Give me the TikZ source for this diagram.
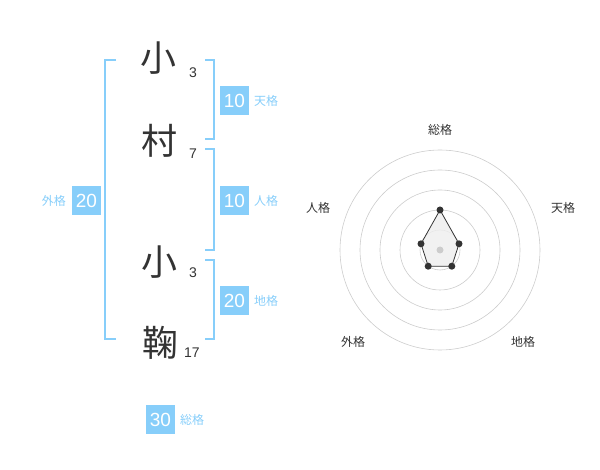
\documentclass[tikz,border=0pt]{standalone}
\usepackage{fontspec}
\setmainfont{Liberation Sans}
\newfontfamily\jp{Noto Sans CJK JP}
\definecolor{sky}{HTML}{87CEFA}
\definecolor{ink}{HTML}{333333}
\definecolor{ring}{HTML}{CCCCCC}
\definecolor{pfill}{HTML}{EEEEEE}
\begin{document}
\begin{tikzpicture}[x=1pt,y=-1pt,
  kanji/.style={font=\jp\fontsize{36}{36}\selectfont, text=ink, inner sep=0pt},
  stroke/.style={font=\fontsize{14}{14}\selectfont, text=ink, inner sep=0pt},
  scorebox/.style={fill=sky, text=white, minimum width=29pt, minimum height=29pt, inner sep=0pt, font=\fontsize{19}{19}\selectfont},
  kaku/.style={font=\jp\fontsize{12}{12}\selectfont, text=sky, inner sep=0pt},
  axislabel/.style={font=\jp\fontsize{12}{12}\selectfont, text=ink, inner sep=0pt},
  bracket/.style={draw=sky, line width=2pt},
  ringline/.style={draw=ring, line width=0.6pt},
  dot/.style={circle, fill=ink, inner sep=0pt, minimum size=7pt}]
\useasboundingbox (0,0) rectangle (600,470);
% characters
\node[kanji] (c1) at (158,58.5) {小};
\node[stroke] (n1) at (193,73) {3};
\node[kanji] (c2) at (159,140.5) {村};
\node[stroke] (n2) at (193,154) {7};
\node[kanji] (c3) at (159,262.5) {小};
\node[stroke] (n3) at (193,273) {3};
\node[kanji] (c4) at (160,342.5) {鞠};
\node[stroke] (n4) at (192,353) {17};
% brackets
\draw[bracket] (116,60) -- (105,60) -- (105,339) -- (116,339);
\draw[bracket] (205,60) -- (214,60) -- (214,139) -- (205,139);
\draw[bracket] (205,149) -- (214,149) -- (214,250) -- (205,250);
\draw[bracket] (205,260) -- (214,260) -- (214,339) -- (205,339);
% scores
\node[scorebox] (ten) at (234.5,100.5) {10};
\node[kaku, anchor=west] (tenl) at (254,101) {天格};
\node[scorebox] (jin) at (234.5,200.5) {10};
\node[kaku, anchor=west] (jinl) at (254,201) {人格};
\node[scorebox] (chi) at (234.5,300.5) {20};
\node[kaku, anchor=west] (chil) at (254,301) {地格};
\node[scorebox] (gai) at (86.5,200.5) {20};
\node[kaku, anchor=east] (gail) at (66,201) {外格};
\node[scorebox] (sou) at (160.5,419.5) {30};
\node[kaku, anchor=west] (soul) at (180,420) {総格};
% radar
\coordinate (rc) at (440,250);
\foreach \r in {20,40,60,80,100} \draw[ringline] (rc) circle[radius=\r];
\coordinate (p1) at (440,210);
\coordinate (p2) at (459.0,243.8);
\coordinate (p3) at (451.8,266.2);
\coordinate (p4) at (428.2,266.2);
\coordinate (p5) at (421.0,243.8);
\filldraw[fill=pfill, fill opacity=0.8, draw=ink, line width=0.8pt] (p1) -- (p2) -- (p3) -- (p4) -- (p5) -- cycle;
\node[circle, fill=ring, inner sep=0pt, minimum size=7pt] (cd) at (rc) {};
\foreach \p in {p1,p2,p3,p4,p5} \node[dot] at (\p) {};
\node[axislabel] (a1) at (440,130) {総格};
\node[axislabel] (a2) at (563,208) {天格};
\node[axislabel] (a3) at (523,342) {地格};
\node[axislabel] (a4) at (353,342) {外格};
\node[axislabel] (a5) at (318,208) {人格};
\end{tikzpicture}
\end{document}
